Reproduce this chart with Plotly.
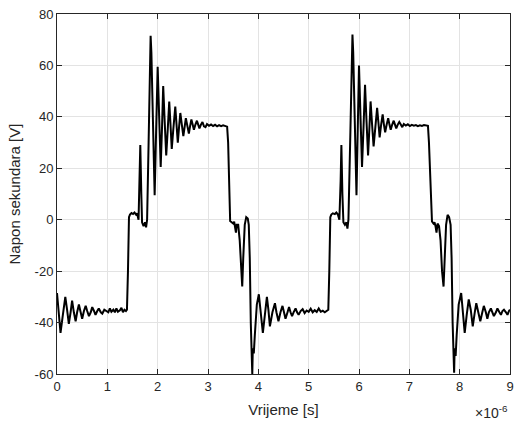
import plotly.graph_objects as go

# time in microseconds, voltage in volts
time_us = [
    0.00, 0.03, 0.07, 0.11, 0.165, 0.20, 0.235, 0.27, 0.30, 0.335, 0.37, 0.40, 0.435, 0.47, 0.50,
    0.535, 0.57, 0.60, 0.635, 0.67, 0.70, 0.735, 0.765, 0.80, 0.83, 0.87, 0.90, 0.94, 0.98, 1.02,
    1.05, 1.08, 1.12, 1.15, 1.18, 1.21, 1.25, 1.28, 1.31, 1.34, 1.37,
    1.39, 1.41, 1.43, 1.45, 1.48, 1.51, 1.54, 1.57, 1.59, 1.62, 1.645, 1.655, 1.675, 1.69, 1.72,
    1.75, 1.77, 1.79, 1.82, 1.86, 1.875, 1.91, 1.94, 1.97, 2.00, 2.03, 2.06, 2.085, 2.11, 2.14,
    2.17, 2.20, 2.23, 2.255, 2.28, 2.31, 2.35, 2.375, 2.40, 2.425, 2.45, 2.48, 2.51, 2.535, 2.56,
    2.59, 2.62, 2.645, 2.67, 2.695, 2.72, 2.75, 2.78, 2.805, 2.83, 2.86, 2.89, 2.92, 2.95, 2.98,
    3.02, 3.06, 3.10, 3.14, 3.18, 3.22, 3.26, 3.30, 3.34, 3.38,
    3.40, 3.42, 3.44, 3.47, 3.50, 3.52, 3.54, 3.555, 3.57, 3.60, 3.63, 3.66, 3.68, 3.70, 3.73,
    3.76, 3.79, 3.81, 3.83, 3.85, 3.87, 3.88, 3.89, 3.91, 3.93, 3.97, 4.01, 4.05, 4.09, 4.13,
    4.17, 4.20, 4.23, 4.28, 4.33, 4.36, 4.40, 4.44, 4.48, 4.51, 4.54, 4.58, 4.61, 4.64, 4.67,
    4.70, 4.74, 4.77, 4.80, 4.84, 4.88, 4.92, 4.96, 5.00, 5.04, 5.08, 5.12, 5.16, 5.20, 5.24,
    5.28, 5.32, 5.36,
    5.39, 5.41, 5.43, 5.45, 5.48, 5.52, 5.55, 5.58, 5.61, 5.635, 5.65, 5.67, 5.69, 5.72, 5.75,
    5.77, 5.79, 5.83, 5.87, 5.885, 5.92, 5.95, 5.975, 6.00, 6.03, 6.06, 6.09, 6.12, 6.15, 6.18,
    6.205, 6.23, 6.26, 6.29, 6.325, 6.36, 6.385, 6.41, 6.44, 6.47, 6.495, 6.52, 6.55, 6.58, 6.605,
    6.63, 6.66, 6.69, 6.715, 6.74, 6.77, 6.80, 6.83, 6.86, 6.89, 6.93, 6.97, 7.01, 7.05, 7.09,
    7.13, 7.17, 7.21, 7.25, 7.29, 7.33, 7.37,
    7.39, 7.42, 7.45, 7.48, 7.50, 7.52, 7.54, 7.56, 7.59, 7.62, 7.65, 7.68, 7.70, 7.73, 7.76,
    7.79, 7.82, 7.84, 7.86, 7.88, 7.89, 7.90, 7.92, 7.94, 7.98, 8.03, 8.07, 8.10, 8.14, 8.18,
    8.22, 8.26, 8.30, 8.33, 8.37, 8.41, 8.45, 8.48, 8.52, 8.55, 8.58, 8.62, 8.65, 8.68, 8.72,
    8.75, 8.79, 8.82, 8.85, 8.88, 8.92, 8.95, 8.98, 9.00,
]

voltage = [
    -28.5, -36, -44, -38, -30, -35, -40.5, -36, -31.5, -36, -39.5, -36, -33, -36, -38.5,
    -35.5, -33.5, -35.5, -37.5, -36, -34, -35.5, -37, -35.5, -34.5, -36, -36.5, -35, -35.5, -36,
    -34.5, -35.8, -35, -36, -34.5, -35.8, -35.2, -34.3, -36, -35, -35.5,
    -35, -20, 1, 2, 2.6, 2.2, 2.8, 2, 2.5, 0, 15, 29, 10, -1, -2.5,
    -1, -3, 0, 30, 71.5, 65, 30, 9.5, 35, 59.5, 40, 20.5, 35, 52, 38,
    25, 35, 46, 37, 27.5, 35, 44, 37, 30, 36, 41.5, 37, 32.5, 36, 39.5,
    36.5, 33.5, 36.5, 39, 37, 35, 37, 38.5, 37, 35.5, 37, 38, 36.3, 36, 37.2,
    36.5, 37, 36.4, 36.9, 36.3, 36.8, 36.4, 36.7, 36.5, 36.2,
    30, 10, -0.5, -1, -1.5, -0.8, -2.5, -5, -2, -2, -8, -20, -26, -15, -2,
    1, 0.5, -2, -15, -40, -57, -60, -50, -52, -45, -33, -29, -36, -44, -37,
    -30, -35, -41.5, -36, -32.5, -36, -39.5, -36, -33.5, -36, -38.5, -36, -34, -36, -37.5,
    -36, -34.5, -36, -37, -35.5, -34.8, -36.3, -35.3, -35.8, -34.6, -36, -35.2, -35.9, -34.5, -35.8,
    -35.4, -36, -35.5,
    -35, -20, 1, 2, 2.5, 2.2, 2.8, 2, 0, 15, 29, 10, -1, -2, -1,
    -3.5, 0, 35, 72, 65, 30, 9.5, 35, 60, 40, 20.5, 36, 52.5, 38, 25,
    35, 46, 37, 28.5, 36, 43.5, 38, 32, 37, 41, 37, 34, 37, 39.5, 37,
    35, 37, 38.5, 37, 35.5, 37, 38, 37, 36, 37.2, 36.6, 37.1, 36.4, 36.9, 36.6,
    36.8, 36.4, 36.7, 36.5, 36.8, 36.5, 36.5,
    30, 10, -0.7, -1.5, -1, -2.5, -5, -1.5, -2.5, -8, -20, -26, -15, -2, 1.9,
    1, -2, -15, -40, -57, -59.5, -50, -53, -45, -33, -28.5, -36, -44, -37, -31,
    -35, -41.5, -36, -32.5, -36, -39.5, -36, -33.5, -36, -38.5, -36, -34.5, -36, -37.5, -36,
    -34.5, -36, -37, -35.5, -35, -36, -37, -35.5, -35,
]

x_ticks = [0, 1, 2, 3, 4, 5, 6, 7, 8, 9]
y_ticks = [-60, -40, -20, 0, 20, 40, 60, 80]

font_family = "Liberation Sans, Arial, sans-serif"
axis_color = "#262626"

fig = go.Figure()
fig.add_trace(go.Scatter(
    x=time_us, y=voltage, mode="lines",
    line=dict(color="black", width=2),
    showlegend=False, hoverinfo="skip",
))

common = dict(
    showline=True, linecolor=axis_color, linewidth=1, mirror="ticks",
    ticks="inside", ticklen=5, tickcolor=axis_color, tickwidth=1,
    showgrid=True, gridcolor="#e3e3e3", gridwidth=1, zeroline=False,
    tickfont=dict(family=font_family, size=13, color=axis_color),
)

fig.update_layout(
    width=519, height=427,
    margin=dict(l=57, r=5, t=14, b=53),
    paper_bgcolor="white", plot_bgcolor="white",
    font=dict(family=font_family, color=axis_color),
    xaxis=dict(range=[0, 9], tickvals=x_ticks, ticktext=[str(v) for v in x_ticks],
               title=dict(text="Vrijeme [s]", font=dict(family=font_family, size=15, color=axis_color), standoff=11),
               **common),
    yaxis=dict(range=[-60, 80], tickvals=y_ticks, ticktext=[str(v) for v in y_ticks],
               title=dict(text="Napon sekundara [V]", font=dict(family=font_family, size=15, color=axis_color), standoff=10),
               **common),
    annotations=[dict(
        text="\u00d710<sup>-6</sup>", x=1.0, y=-0.105, xref="paper", yref="paper",
        xanchor="right", yanchor="middle", showarrow=False,
        font=dict(family=font_family, size=14, color=axis_color),
    )],
)

fig.write_html(
    "out.html",
    config={"displayModeBar": False},
    post_script="document.body.style.margin='0';document.body.style.overflow='hidden';",
)
